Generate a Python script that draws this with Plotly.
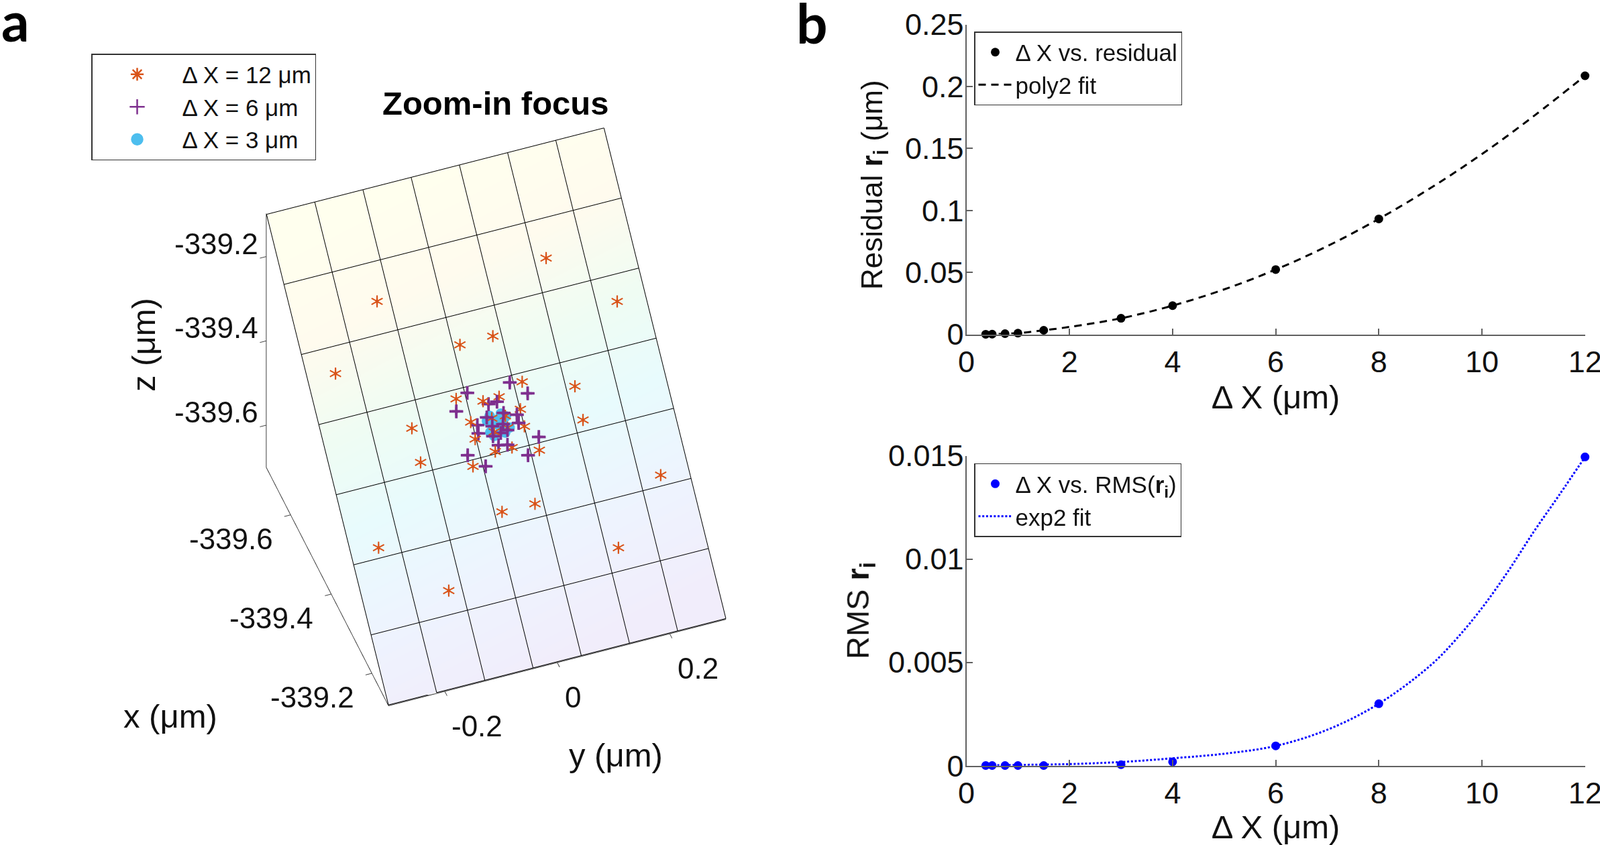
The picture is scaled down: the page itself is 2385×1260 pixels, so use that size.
import plotly.graph_objects as go

W, H = 2385, 1260
FONT = 'Liberation Sans'

# panel a, values
star_y = [0.1495, -0.1511, 0.2503, 0.0280, -0.0306, -0.2506, 0.1444, 0.1439, -0.1456, -0.1452, 0.2509, 0.0288,
          -0.0296, -0.2509, 0.1501, -0.1514, 0.0581, -0.0594, -0.0154, 0.0133, 0.0437, -0.0446, 0.0433, 0.0147,
          -0.0443, 0.0584, 0.0138, -0.0159, -0.0593, 0.0158, -0.0095, -0.0079]
star_x = [-339.5876, -339.5876, -339.5168, -339.5135, -339.5132, -339.5168, -339.4317, -339.3906, -339.4314,
          -339.3896, -339.3043, -339.3083, -339.3088, -339.3039, -339.2332, -339.2339, -339.4524, -339.4522,
          -339.4416, -339.4420, -339.4214, -339.4212, -339.4005, -339.4039, -339.4003, -339.3687, -339.3798,
          -339.3801, -339.3696, -339.4182, -339.4030, -339.4194]
star_z = [-339.2324, -339.2324, -339.3032, -339.3065, -339.3068, -339.3032, -339.3883, -339.4294, -339.3886,
          -339.4304, -339.5157, -339.5117, -339.5112, -339.5161, -339.5868, -339.5861, -339.3676, -339.3678,
          -339.3784, -339.3780, -339.3986, -339.3988, -339.4195, -339.4161, -339.4197, -339.4513, -339.4402,
          -339.4399, -339.4504, -339.4018, -339.4170, -339.4006]

plus_y = [0.0372, 0.0626, -0.0381, 0.0078, -0.0073, -0.0642, 0.0357, 0.0141, -0.0158, 0.0352, -0.0347, -0.0364,
          0.0631, -0.0102, 0.0086, 0.0136, 0.0012, -0.0132, -0.0076, 0.0075, -0.0634, 0.0375, -0.0380]
plus_x = [-339.4552, -339.4374, -339.4557, -339.4368, -339.4366, -339.4377, -339.4160, -339.4220, -339.4218,
          -339.4060, -339.4157, -339.4059, -339.3840, -339.4100, -339.4093, -339.4011, -339.3998, -339.3983,
          -339.3863, -339.3842, -339.3839, -339.3661, -339.3659]
plus_z = [-339.3648, -339.3826, -339.3643, -339.3832, -339.3834, -339.3823, -339.4040, -339.3980, -339.3982,
          -339.4140, -339.4043, -339.4141, -339.4360, -339.4100, -339.4107, -339.4189, -339.4202, -339.4217,
          -339.4337, -339.4358, -339.4361, -339.4539, -339.4541]

dot_y = [0.0093, -0.0103, 0.0167, -0.0169, 0.0012, 0.0091, -0.0063, 0.0184, 0.0031, -0.0161, 0.0088, -0.0112]
dot_x = [-339.4221, -339.4228, -339.4175, -339.4179, -339.4162, -339.4106, -339.4119, -339.4035, -339.4049,
         -339.4037, -339.3990, -339.3984]
dot_z = [-339.3979, -339.3972, -339.4025, -339.4021, -339.4038, -339.4094, -339.4081, -339.4165, -339.4151,
         -339.4163, -339.4210, -339.4216]

# slice plane, 7 x 7 cells
plane_y = [-0.3, -0.2143, -0.1286, -0.0429, 0.0429, 0.1286, 0.2143, 0.3]
plane_x = [-339.72, -339.6343, -339.5486, -339.4629, -339.3771, -339.2914, -339.2057, -339.12]
plane_z = [-339.1, -339.1857, -339.2714, -339.3571, -339.4429, -339.5286, -339.6143, -339.7]

# panel b, values
dx = [0.375, 0.5, 0.75, 1, 1.5, 3, 4, 6, 8, 12]
residual = [0.0001, 0.0002, 0.0006, 0.0010, 0.0033, 0.0130, 0.0232, 0.0523, 0.0932, 0.2087]
rms = [0.00001, 0.00001, 0.00001, 0.00001, 0.00001, 0.00005, 0.00019, 0.00096, 0.0030, 0.01494]

poly_x = [0.375, 1, 1.5, 2, 3, 4, 5, 6, 7, 8, 9, 10, 11, 12]
poly_y = [0.0002, 0.0010, 0.0033, 0.0060, 0.0130, 0.0232, 0.0363, 0.0523, 0.0712, 0.0932, 0.1180, 0.1455, 0.1760, 0.2087]
exp_x = [0.375, 1, 2, 3, 4, 5, 6, 7, 8, 9, 9.5, 10, 10.5, 11, 11.5, 12]
exp_y = [0.00002, 0.00004, 0.00008, 0.00018, 0.00036, 0.00058, 0.00096, 0.00174, 0.0030, 0.00485, 0.00612, 0.00763,
         0.00938, 0.0113, 0.0131, 0.01494]

z_ticks = [-339.6, -339.4, -339.2]
x_ticks = [-339.6, -339.4, -339.2]
y_ticks = [-0.2, 0, 0.2]


def px_x(a, b):
    return [a / W, b / W]


def px_y(top, bottom):
    return [1 - bottom / H, 1 - top / H]


# marks sit a little nearer to the camera than the plane, same place on screen
EYE = (0.665, -0.241, 0.707)
# grid lines just off the surface, else they fight with it for depth
GRID_LIFT = 0.0015


def lift(vals, k, amount=0.03):
    return [v + amount * EYE[k] for v in vals]


def label(text, x, y, size, angle=0, family=FONT, color='#111111', xanchor='center'):
    return dict(text=text, x=x / W, y=1 - y / H, xref='paper', yref='paper', xanchor=xanchor, yanchor='middle',
                showarrow=False, textangle=angle, font=dict(size=size, family=family, color=color))


fig = go.Figure()

fig.add_trace(go.Surface(
    x=plane_x, y=plane_y,
    z=[plane_z for j in plane_y],
    surfacecolor=[[h - 0.15 * j for h in plane_z] for j in plane_y],
    cmin=-339.7, cmax=-339.1,
    colorscale=[[0, '#F1EDFB'], [0.2, '#EEF3FE'], [0.42, '#E8FBFD'], [0.6, '#EFFCF3'], [0.8, '#FFFBEE'], [1, '#FFFFEE']],
    showscale=False, hoverinfo='skip',
    lighting=dict(ambient=1, diffuse=0, specular=0, roughness=1, fresnel=0),
))

# grid lines on the plane
grid_x, grid_y, grid_z = [], [], []
for i in range(len(plane_x)):
    grid_x += [plane_x[i] + GRID_LIFT] * len(plane_y) + [None]
    grid_y += plane_y + [None]
    grid_z += [plane_z[i] + GRID_LIFT] * len(plane_y) + [None]
for v in plane_y:
    grid_x += [p + GRID_LIFT for p in plane_x] + [None]
    grid_y += [v] * len(plane_x) + [None]
    grid_z += [p + GRID_LIFT for p in plane_z] + [None]
fig.add_trace(go.Scatter3d(x=grid_x, y=grid_y, z=grid_z, mode='lines', line=dict(color='#000000', width=2),
                           showlegend=False, hoverinfo='skip'))

fig.add_trace(go.Scatter3d(x=lift(star_x, 0), y=lift(star_y, 1), z=lift(star_z, 2), mode='text',
                           text=['*'] * len(star_x), textfont=dict(color='#D95319', size=40, family='DejaVu Sans'),
                           textposition='middle center', showlegend=False))
fig.add_trace(go.Scatter3d(x=lift(plus_x, 0), y=lift(plus_y, 1), z=lift(plus_z, 2), mode='text',
                           text=['+'] * len(plus_x),
                           textfont=dict(color='#7E2F8E', size=33, family='DejaVu Sans', weight='bold'),
                           textposition='middle center', showlegend=False))
fig.add_trace(go.Scatter3d(x=lift(dot_x, 0, 0.015), y=lift(dot_y, 1, 0.015), z=lift(dot_z, 2, 0.015), mode='markers',
                           marker=dict(color='#4DBEEE', size=9, symbol='circle'), showlegend=False))

# legend of panel a
for name, sym, col, size in [('Δ X = 12 μm', 'asterisk-open', '#D95319', 16),
                             ('Δ X = 6 μm', 'cross-thin-open', '#7E2F8E', 18),
                             ('Δ X = 3 μm', 'circle', '#4DBEEE', 18)]:
    fig.add_trace(go.Scatter(x=[None], y=[None], mode='markers', name=name, legend='legend',
                             marker=dict(symbol=sym, color=col, size=size, line=dict(color=col, width=2.5))))

# panel b
fig.add_trace(go.Scatter(x=dx, y=residual, mode='markers', name='Δ X vs. residual', legend='legend2',
                         marker=dict(color='black', size=13), cliponaxis=False, xaxis='x', yaxis='y'))
fig.add_trace(go.Scatter(x=poly_x, y=poly_y, mode='lines', name='poly2 fit', legend='legend2',
                         line=dict(color='black', width=3, dash='11px,8px', shape='spline'), xaxis='x', yaxis='y'))
fig.add_trace(go.Scatter(x=dx, y=rms, mode='markers', name='Δ X vs. RMS(<b>r</b><sub><b>i</b></sub>)', legend='legend3',
                         marker=dict(color='#0000FF', size=13), cliponaxis=False, xaxis='x2', yaxis='y2'))
fig.add_trace(go.Scatter(x=exp_x, y=exp_y, mode='lines', name='exp2 fit', legend='legend3',
                         line=dict(color='#0000FF', width=3, dash='3px,2.7px', shape='spline'), xaxis='x2', yaxis='y2'))

xticks = [0, 2, 4, 6, 8, 10, 12]
axis_style = dict(showgrid=False, zeroline=False, showline=True, linecolor='#606060', linewidth=2, automargin=False,
                  ticks='inside', ticklen=9, tickwidth=1.5, tickcolor='#606060', ticklabeloverflow='allow',
                  tickfont=dict(size=45, family=FONT, color='#111111'))
title_x = dict(size=49, family=FONT, color='#111111')
axis3d = dict(showgrid=False, zeroline=False, showbackground=False, showspikes=False, showline=True,
              linecolor='#404040', linewidth=2, ticks='outside', ticklen=10, tickwidth=2, tickcolor='#404040',
              showticklabels=False, title_text='')

legend_style = dict(bgcolor='white', bordercolor='#333333', borderwidth=1.5, xanchor='left', yanchor='top',
                    itemclick=False, traceorder='normal')
legend_font = dict(size=35, family=FONT, color='#111111')


def tick3d(text, x, y, z, xs, ys, anchor='center'):
    return dict(text=text, x=x, y=y, z=z, showarrow=False, xshift=xs, yshift=-ys, xanchor=anchor,
                font=dict(size=44, family=FONT, color='#111111'))


ticks3d = []
for v, xs in zip(y_ticks, [49, 24, 43]):
    ticks3d.append(tick3d(str(v), -339.12, v, -339.7, xs, 53))
for v in x_ticks:
    ticks3d.append(tick3d(str(v), v, -0.3, -339.7, -89, 36))
for v in z_ticks:
    ticks3d.append(tick3d(str(v), -339.72, -0.3, v, -10, -19, anchor='right'))

fig.update_layout(
    template='none',
    width=W, height=H, autosize=False, margin=dict(l=0, r=0, t=0, b=0),
    paper_bgcolor='white', plot_bgcolor='white', showlegend=True, font=dict(family=FONT),
    xaxis=dict(domain=px_x(1440.5, 2362.7), range=[0, 12], tickvals=xticks, anchor='y', ticklabelstandoff=0,
               title=dict(text='Δ X (μm)', font=title_x, standoff=10), **axis_style),
    yaxis=dict(domain=px_y(36.7, 498.6), range=[0, 0.25], anchor='x', ticklabelstandoff=-7,
               tickvals=[0, 0.05, 0.1, 0.15, 0.2, 0.25], ticktext=['0', '0.05', '0.1', '0.15', '0.2', '0.25'],
               **axis_style),
    xaxis2=dict(domain=px_x(1440.5, 2362.7), range=[0, 12], tickvals=xticks, anchor='y2', ticklabelstandoff=0,
                title=dict(text='Δ X (μm)', font=title_x, standoff=10), **axis_style),
    yaxis2=dict(domain=px_y(679.5, 1141.8), range=[0, 0.015], anchor='x2', ticklabelstandoff=-7,
                tickvals=[0, 0.005, 0.01, 0.015], ticktext=['0', '0.005', '0.01', '0.015'],
                title=dict(text='RMS <b>r</b><sub><b>i</b></sub>', standoff=14,
                           font=dict(size=47, family=FONT, color='#111111')), **axis_style),
    scene=dict(
        domain=dict(x=px_x(194, 1285), y=px_y(85.5, 1155.5)),
        aspectmode='manual', aspectratio=dict(x=1, y=1, z=1),
        camera=dict(eye=dict(x=1.269, y=-0.46, z=1.349), up=dict(x=0, y=0, z=1), center=dict(x=0, y=0, z=0),
                    projection=dict(type='orthographic')),
        xaxis=dict(range=[-339.72, -339.118], tickvals=x_ticks, **axis3d),
        yaxis=dict(range=[-0.3, 0.3], tickvals=y_ticks, **axis3d),
        zaxis=dict(range=[-339.7, -339.098], tickvals=z_ticks, **axis3d),
        annotations=ticks3d,
    ),
    legend=dict(x=136 / W, y=1 - 80 / H, itemwidth=124, font=dict(size=35, family=FONT, color='#111111'), **legend_style),
    legend2=dict(x=1452 / W, y=1 - 47 / H, itemwidth=50, font=legend_font, **legend_style),
    legend3=dict(x=1452 / W, y=1 - 690.6 / H, itemwidth=50, font=legend_font, **legend_style),
    annotations=[
        label('<b>a</b>', 0, 30, 82, family='Lato', color='black', xanchor='left'),
        label('<b>b</b>', 1185, 33, 82, family='Lato', color='black', xanchor='left'),
        label('<b>Zoom-in focus</b>', 739, 154, 49, color='black'),
        label('x (μm)', 254, 1068, 49),
        label('y (μm)', 918, 1126, 49),
        label('z (μm)', 214, 514, 49, angle=-90),
        label('Residual <b>r</b><sub><b>i</b></sub> (μm)', 1303, 276, 44, angle=-90),
    ],
)

# the page's default body margin would push the figure 8px off its place
fig.write_html("out.html", config={'displayModeBar': False}, post_script="document.body.style.margin='0';")
